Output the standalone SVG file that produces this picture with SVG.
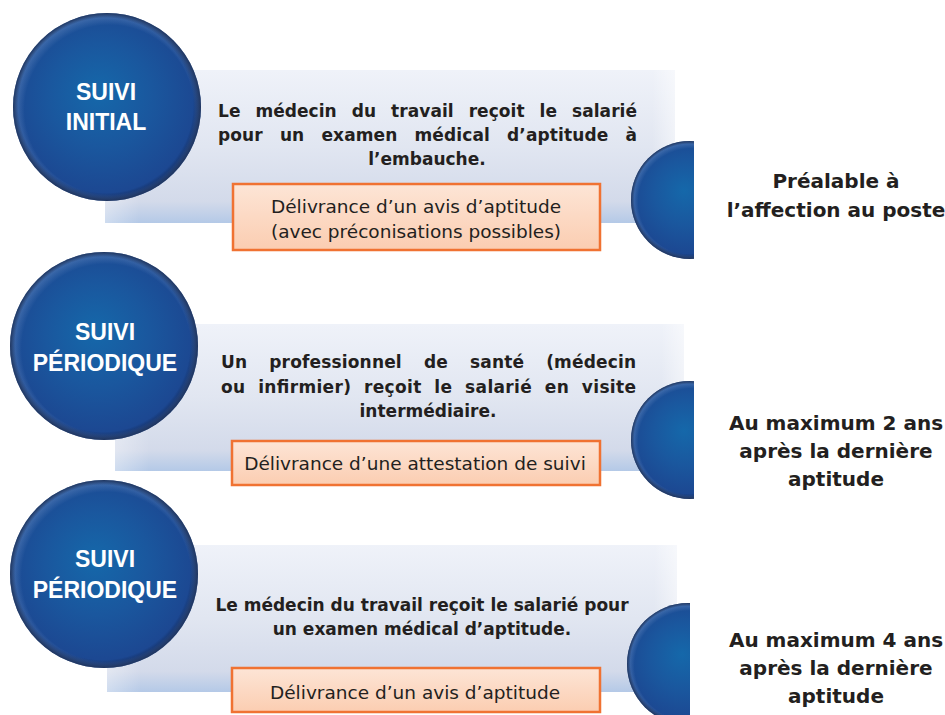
<svg xmlns="http://www.w3.org/2000/svg" width="945" height="715" viewBox="0 0 945 715">
<defs>
<radialGradient id="ball" cx="48%" cy="46%" r="55%" fx="45%" fy="42%">
<stop offset="0" stop-color="#1568aa"/>
<stop offset="0.5" stop-color="#1a579e"/>
<stop offset="0.9" stop-color="#1c4892"/>
<stop offset="1" stop-color="#1c448e"/>
</radialGradient>
<radialGradient id="rim" cx="50%" cy="50%" r="50%" fx="40%" fy="38%">
<stop offset="0.93" stop-color="#0c1a3a" stop-opacity="0"/>
<stop offset="1" stop-color="#0c1a3a" stop-opacity="0.7"/>
</radialGradient>
<radialGradient id="rimlight" cx="50%" cy="50%" r="50%" fx="62%" fy="64%">
<stop offset="0.9" stop-color="#8fb0dc" stop-opacity="0"/>
<stop offset="1" stop-color="#8fb0dc" stop-opacity="0.4"/>
</radialGradient>
<linearGradient id="panel" x1="0" y1="0" x2="0" y2="1">
<stop offset="0" stop-color="#eff2f9"/>
<stop offset="0.5" stop-color="#e1e6f1"/>
<stop offset="0.86" stop-color="#d3daea"/>
<stop offset="1" stop-color="#b4c9e7"/>
</linearGradient>
<linearGradient id="panelSide" x1="0" y1="0" x2="1" y2="0">
<stop offset="0" stop-color="#ffffff" stop-opacity="0.35"/>
<stop offset="0.06" stop-color="#ffffff" stop-opacity="0"/>
<stop offset="0.96" stop-color="#ffffff" stop-opacity="0"/>
<stop offset="1" stop-color="#ffffff" stop-opacity="0.5"/>
</linearGradient>
<linearGradient id="box" x1="0" y1="0" x2="0" y2="1">
<stop offset="0" stop-color="#fde5d6"/>
<stop offset="1" stop-color="#fbcdb1"/>
</linearGradient>
<clipPath id="c1"><rect x="600" y="100" width="94" height="200"/></clipPath>
<clipPath id="c2"><rect x="600" y="340" width="94" height="200"/></clipPath>
<clipPath id="c3"><rect x="600" y="560" width="90" height="160"/></clipPath>
<style>
.panel{fill:url(#panel)}
.pside{fill:url(#panelSide)}
.ball{fill:url(#ball)}
.rim{fill:url(#rim)}
.riml{fill:url(#rimlight)}
.box{fill:url(#box);stroke:#f07232;stroke-width:2.5}
.ct{font-family:"Liberation Sans",Arial,sans-serif;font-weight:bold;font-size:23px;fill:#ffffff;text-anchor:middle}
.bt{font-family:"DejaVu Sans",sans-serif;font-weight:bold;font-size:17px;fill:#231f20}
.btc{text-anchor:middle}
.ot{font-family:"DejaVu Sans",sans-serif;font-size:18.5px;fill:#231f20;text-anchor:middle}
.rt{font-family:"DejaVu Sans",sans-serif;font-weight:bold;font-size:20px;fill:#231f20;text-anchor:middle}
</style>
</defs>

<g id="panel1">
<rect class="panel" x="105" y="70" width="570" height="153"/>
<rect class="pside" x="105" y="70" width="570" height="153"/>
<text class="bt" x="218" y="117" word-spacing="9" textLength="419" lengthAdjust="spacing">Le médecin du travail reçoit le salarié</text>
<text class="bt" x="218" y="141" word-spacing="11" textLength="419" lengthAdjust="spacing">pour un examen médical d’aptitude à</text>
<text class="bt btc" x="427" y="165">l’embauche.</text>
</g>
<g id="panel2">
<rect class="panel" x="115" y="324" width="569" height="147"/>
<rect class="pside" x="115" y="324" width="569" height="147"/>
<text class="bt" x="221" y="368" word-spacing="16" textLength="415" lengthAdjust="spacing">Un professionnel de santé (médecin</text>
<text class="bt" x="221" y="393" word-spacing="6.5" textLength="415" lengthAdjust="spacing">ou infirmier) reçoit le salarié en visite</text>
<text class="bt btc" x="428" y="417">intermédiaire.</text>
</g>
<g id="panel3">
<rect class="panel" x="107" y="545" width="570" height="147"/>
<rect class="pside" x="107" y="545" width="570" height="147"/>
<text class="bt btc" x="422" y="611">Le médecin du travail reçoit le salarié pour</text>
<text class="bt btc" x="422" y="635">un examen médical d’aptitude.</text>
</g>

<g id="suivi-initial">
<circle class="ball" cx="107" cy="107" r="94"/>
<circle class="riml" cx="107" cy="107" r="94"/>
<circle class="rim" cx="107" cy="107" r="94"/>
<text class="ct" x="106" y="100">SUIVI</text>
<text class="ct" x="106" y="130">INITIAL</text>
</g>
<g id="suivi-periodique-1">
<circle class="ball" cx="104" cy="346" r="94"/>
<circle class="riml" cx="104" cy="346" r="94"/>
<circle class="rim" cx="104" cy="346" r="94"/>
<text class="ct" x="105" y="340">SUIVI</text>
<text class="ct" x="105" y="371">PÉRIODIQUE</text>
</g>
<g id="suivi-periodique-2">
<circle class="ball" cx="104" cy="574" r="94"/>
<circle class="riml" cx="104" cy="574" r="94"/>
<circle class="rim" cx="104" cy="574" r="94"/>
<text class="ct" x="105" y="567">SUIVI</text>
<text class="ct" x="105" y="598">PÉRIODIQUE</text>
</g>

<g id="half1" clip-path="url(#c1)">
<circle class="ball" cx="690" cy="200" r="59"/>
<circle class="riml" cx="690" cy="200" r="59"/>
<circle class="rim" cx="690" cy="200" r="59"/>
</g>
<g id="half2" clip-path="url(#c2)">
<circle class="ball" cx="690" cy="440" r="59"/>
<circle class="riml" cx="690" cy="440" r="59"/>
<circle class="rim" cx="690" cy="440" r="59"/>
</g>
<g id="half3" clip-path="url(#c3)">
<circle class="ball" cx="688" cy="664" r="61"/>
<circle class="riml" cx="688" cy="664" r="61"/>
<circle class="rim" cx="688" cy="664" r="61"/>
</g>

<g id="box1">
<rect class="box" x="233" y="184" width="367" height="66"/>
<text class="ot" x="416" y="213">Délivrance d’un avis d’aptitude</text>
<text class="ot" x="416" y="238">(avec préconisations possibles)</text>
</g>
<g id="box2">
<rect class="box" x="232" y="441" width="368" height="44"/>
<text class="ot" x="415" y="470">Délivrance d’une attestation de suivi</text>
</g>
<g id="box3">
<rect class="box" x="232" y="668" width="368" height="44"/>
<text class="ot" x="415" y="699">Délivrance d’un avis d’aptitude</text>
</g>

<g id="delai1">
<text class="rt" x="836" y="188">Préalable à</text>
<text class="rt" x="836" y="217">l’affection au poste</text>
</g>
<g id="delai2">
<text class="rt" x="836" y="430">Au maximum 2 ans</text>
<text class="rt" x="836" y="458">après la dernière</text>
<text class="rt" x="836" y="486">aptitude</text>
</g>
<g id="delai3">
<text class="rt" x="836" y="647">Au maximum 4 ans</text>
<text class="rt" x="836" y="675">après la dernière</text>
<text class="rt" x="836" y="703">aptitude</text>
</g>
<g id="connectors"/>
</svg>
